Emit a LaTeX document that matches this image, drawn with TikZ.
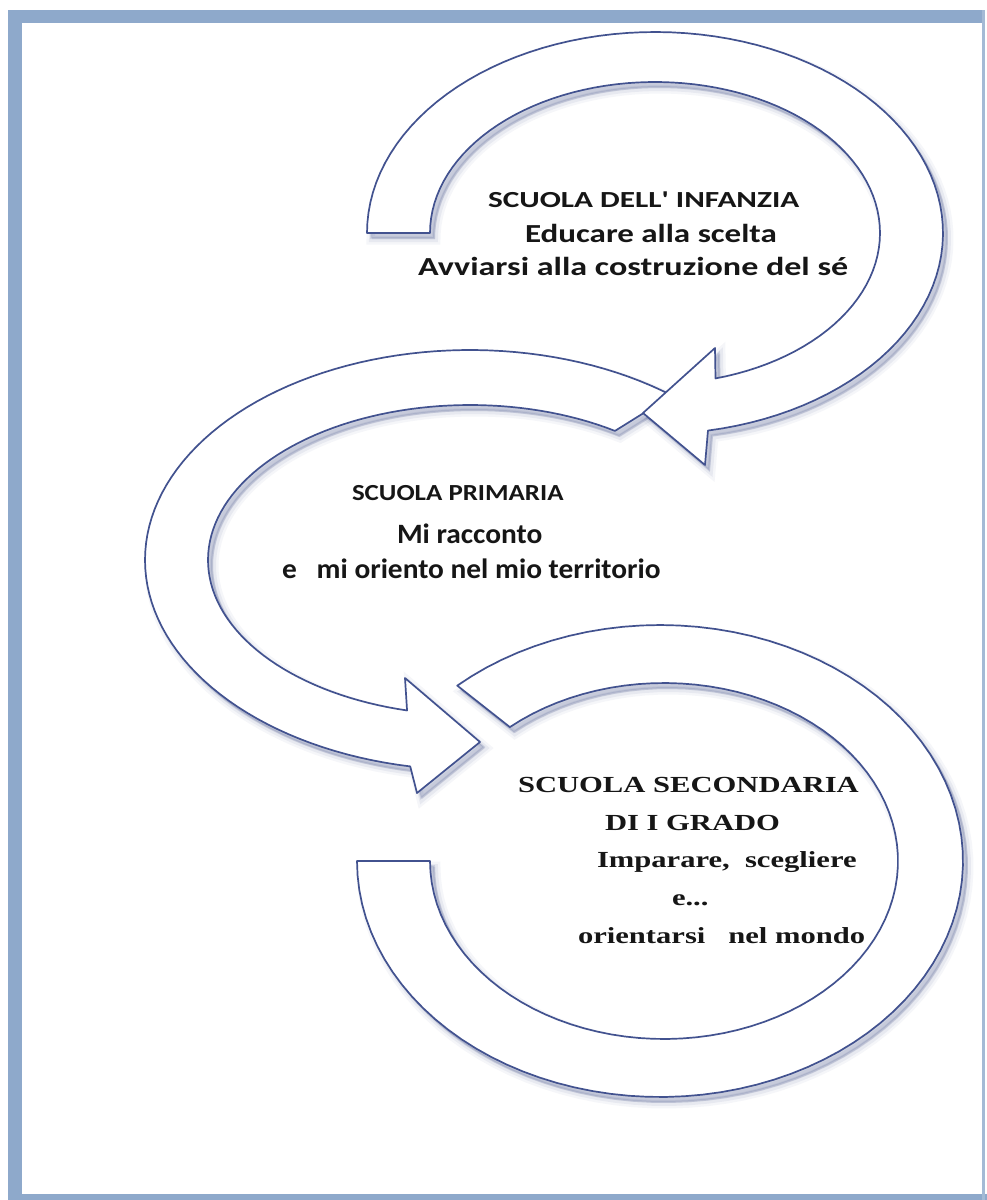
\documentclass[tikz,border=0pt]{standalone}
\usepackage{fontspec}
\usepackage{graphicx}
\setmainfont{Liberation Serif}
\newfontfamily\carl{Carlito}
\definecolor{framec}{HTML}{8EA9CB}
\definecolor{edgec}{HTML}{42528F}
\definecolor{shadc}{HTML}{5E6A9A}
\definecolor{txtc}{HTML}{161616}

% top arrow: Scuola dell'infanzia
\newcommand\arrowA[1]{\path[#1] plot[domain=180:439.4,samples=90] ({655+288*cos(\x)},{233+201*sin(\x)}) -- (705,465) -- (643,413) -- (715,348) -- plot[domain=434.4:180,samples=90] ({655+225*cos(\x)},{233+151*sin(\x)}) -- cycle;}
% middle arrow: Scuola primaria
\newcommand\arrowB[1]{\path[#1] plot[domain=-51.6:-259.4,samples=90] ({470+325*cos(\x)},{560+210*sin(\x)}) -- (417,793) -- (480,742) -- (405,678) -- plot[domain=-256.1:-56.4,samples=90] ({470+262*cos(\x)},{560+155*sin(\x)}) -- cycle;}
% bottom band: Scuola secondaria
\newcommand\arrowC[1]{\path[#1] plot[domain=228:540,samples=90] ({660+303*cos(\x)},{861+236*sin(\x)}) -- plot[domain=540:228.8,samples=90] ({664+234*cos(\x)},{861+178*sin(\x)}) -- cycle;}

\newcommand\softshadow[1]{%
  #1{fill=shadc, draw=shadc, line width=11pt, opacity=0.06, shift={(5,6)}}
  #1{fill=shadc, draw=shadc, line width=6pt, opacity=0.09, shift={(5,6)}}
  #1{fill=shadc, draw=shadc, line width=2pt, opacity=0.18, shift={(4,5)}}
}

\begin{document}
\begin{tikzpicture}[x=1pt,y=-1pt,
  arrowst/.style={fill=white, draw=edgec, line width=1.7pt, line join=round},
  lab/.style={inner sep=0pt, outer sep=0pt, anchor=base west, text=txtc},
  sanscap/.style={lab, font=\carl\bfseries\fontsize{23}{26}\selectfont},
  sanstxt/.style={lab, font=\carl\bfseries\fontsize{26}{30}\selectfont},
  sanstxtb/.style={lab, font=\carl\bfseries\fontsize{28}{32}\selectfont},
  seriftxt/.style={lab, font=\bfseries\fontsize{23}{26}\selectfont}]
\useasboundingbox (0,0) rectangle (987,1200);
\fill[white] (0,0) rectangle (987,1200);

% frame
\fill[framec] (8,10) rectangle (983,23);
\fill[framec] (8,10) rectangle (22,1200);
\fill[framec] (8,1194) rectangle (987,1200);
\fill[framec!80] (982,10) rectangle (985,1200);

% arrows (bottom to top)
\softshadow\arrowC
\arrowC{arrowst}
\softshadow\arrowB
\arrowB{arrowst}
\softshadow\arrowA
\arrowA{arrowst}

% block 1
\node[sanscap] (i1) at (488,207) {\scalebox{1.36}[1]{SCUOLA DELL\textquotesingle\ INFANZIA}};
\node[sanstxt] (i2) at (525,242) {\scalebox{1.27}[1]{Educare alla scelta}};
\node[sanstxt] (i3) at (418,275) {\scalebox{1.31}[1]{Avviarsi alla costruzione del sé}};

% block 2
\node[sanscap] (p1) at (352,500) {\scalebox{1.17}[1]{SCUOLA PRIMARIA}};
\node[sanstxtb] (p2) at (397,543) {\scalebox{1.05}[1]{Mi racconto}};
\node[sanstxtb] (p3) at (282,578) {\scalebox{1.05}[1]{e\ \ \ mi oriento nel mio territorio}};

% block 3
\node[seriftxt] (s1) at (518,792) {\scalebox{1.33}[1]{SCUOLA SECONDARIA}};
\node[seriftxt] (s2) at (605,830) {\scalebox{1.33}[1]{DI I GRADO}};
\node[seriftxt] (s3) at (597,867) {\scalebox{1.33}[1]{Imparare,\ \ scegliere}};
\node[seriftxt] (s4) at (672,905) {\scalebox{1.33}[1]{e...}};
\node[seriftxt] (s5) at (578,943) {\scalebox{1.33}[1]{orientarsi\ \ \ nel mondo}};
\end{tikzpicture}
\end{document}
